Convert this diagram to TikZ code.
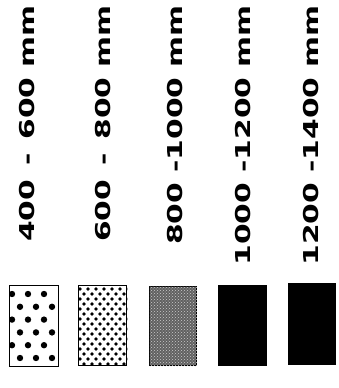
\documentclass[tikz,border=0pt]{standalone}
\usepackage{fontspec}
\setmainfont{DejaVu Sans}
\usetikzlibrary{patterns}
\begin{document}
\begin{tikzpicture}[x=1pt,y=-1pt,
  lbl/.style={rotate=90,anchor=base east,inner sep=0pt,font=\bfseries\fontsize{20.5}{20.5}\selectfont},
  swatch/.style={draw=black,line width=1.4pt}]
\useasboundingbox (0,0) rectangle (338,388);
\newcommand{\wide}[1]{\scalebox{1.45}[1]{#1}}
\node[lbl] (t1) at (34,5) {\wide{400\hspace{2.5pt} -\hspace{2.5pt} 600 mm}};
\node[lbl] (t2) at (110,5) {\wide{600\hspace{2.5pt} -\hspace{2.5pt} 800 mm}};
\node[lbl] (t3) at (182,5) {\wide{800 -1000 mm}};
\node[lbl] (t4) at (250,5) {\wide{1000 -1200 mm}};
\node[lbl] (t5) at (318,5) {\wide{1200 -1400 mm}};
% box 1: big dots
\node[swatch,fill=white,minimum width=49pt,minimum height=81pt,inner sep=0pt,anchor=north west] (b1) at (9,285) {};
\begin{scope}
\clip (b1.south west) rectangle (b1.north east);
\foreach \r in {0,2,4} {
  \foreach \c in {12,28,44} \fill (\c,294+\r*12.8) circle (3.2pt);
  \foreach \c in {20,36,52} \fill (\c,306.8+\r*12.8) circle (3.2pt);
}
\end{scope}
% box 2: dense dots
\node[swatch,fill=white,minimum width=48pt,minimum height=80pt,inner sep=0pt,anchor=north west] (b2) at (78,285) {};
\begin{scope}
\clip (b2.south west) rectangle (b2.north east);
\foreach \r in {0,...,16} {
  \pgfmathsetmacro{\yy}{289+\r*5}
  \pgfmathsetmacro{\off}{mod(\r,2)*4}
  \foreach \c in {0,...,6} \fill (80+\off+\c*8,\yy) circle (1.8pt);
}
\end{scope}
% box 3: grey texture
\node[swatch,fill=black!62,minimum width=47pt,minimum height=79pt,inner sep=0pt,anchor=north west] (b3) at (149,286) {};
\fill[pattern=crosshatch dots,pattern color=white!80!black] (b3.south west) rectangle (b3.north east);
% box 4,5: black
\node[swatch,fill=black,minimum width=48pt,minimum height=80pt,inner sep=0pt,anchor=north west] (b4) at (218,285) {};
\node[swatch,fill=black,minimum width=47pt,minimum height=81pt,inner sep=0pt,anchor=north west] (b5) at (288,283) {};
\end{tikzpicture}
\end{document}
